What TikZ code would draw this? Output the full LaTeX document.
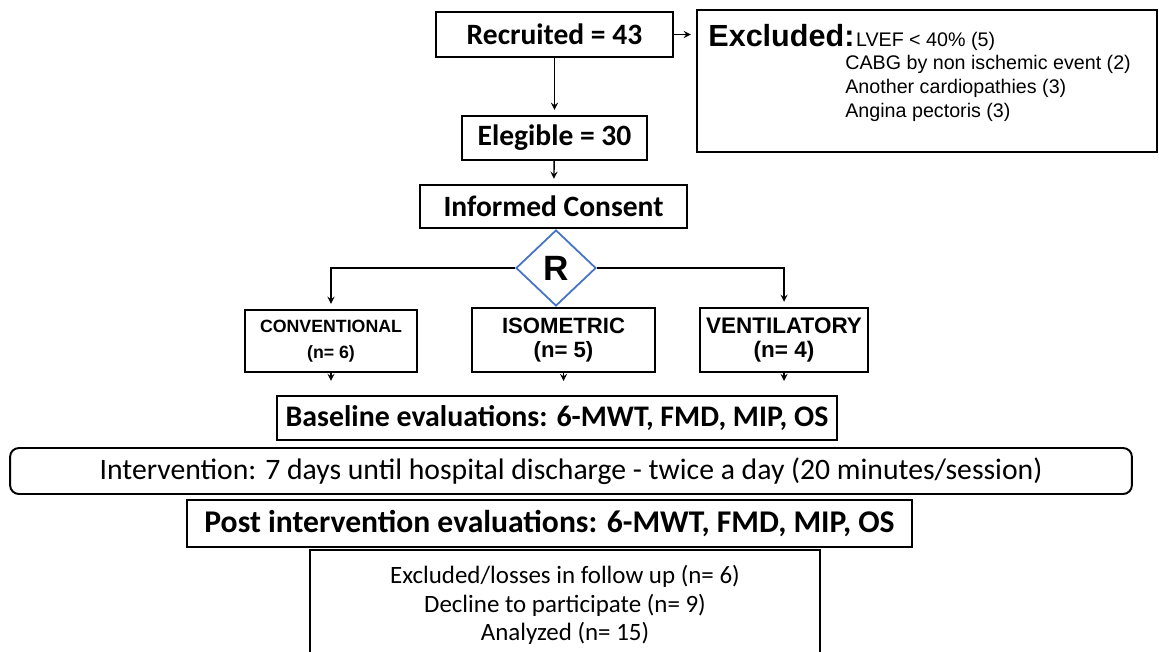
\documentclass[tikz,border=0pt]{standalone}
\usepackage{fontspec}
\setmainfont{Carlito}
\newfontfamily\arialfont{Liberation Sans}
\usetikzlibrary{shapes,positioning,calc}
\definecolor{rblue}{RGB}{68,114,196}

\begin{document}
\begin{tikzpicture}[x=0.02cm, y=-0.02cm, >=stealth,
    box/.style={draw, line width=1.1pt, inner sep=0pt, align=center},
    arr/.style={->, line width=0.8pt, shorten >=3pt},
    big/.style={font=\fontsize{16.8}{18}\selectfont\bfseries},
    grp/.style={font=\arialfont\fontsize{12.8}{14}\selectfont\bfseries}]
  \useasboundingbox (0,0) rectangle (1159,652);
  % enrolment
  \node (rec)[box, big, minimum width=4.74cm, minimum height=0.9cm] at (554.5,34.5) {Recruited = 43};
  \node (exc)[box, minimum width=9.2cm, minimum height=2.84cm] at (927,81) {};
  \node (exchead)[anchor=base west, inner sep=0pt, font=\arialfont\fontsize{17.4}{18}\selectfont\bfseries] at (708,47) {Excluded:};
  \node (exclist)[anchor=base west, inner sep=0pt, xshift=0.5pt, align=left, font=\arialfont\fontsize{11.2}{13.6}\selectfont] at (exchead.base east)
    {LVEF < 40\% (5)};
  \node (excrest)[anchor=north west, inner sep=0pt, align=left, font=\arialfont\fontsize{11.2}{13.6}\selectfont] at (845,55)
    {CABG by non ischemic event (2)\\Another cardiopathies (3)\\Angina pectoris (3)};
  \node (eleg)[box, big, minimum width=3.7cm, minimum height=0.88cm] at (554.5,138) {Elegible = 30};
  \node (cons)[box, big, minimum width=5.34cm, minimum height=0.86cm] at (553.5,206.5) {Informed Consent};
  % randomisation
  \node (R)[diamond, draw=rblue, line width=1pt, inner sep=0pt, minimum width=1.6cm, minimum height=1.52cm,
    font=\arialfont\fontsize{20}{22}\selectfont\bfseries] at (556,268) {R};
  \node (conv)[box, grp, font=\arialfont\fontsize{10.1}{14.5}\selectfont\bfseries, minimum width=3.44cm, minimum height=1.24cm] at (331,341) {CONVENTIONAL\\(n= 6)};
  \node (iso)[box, grp, font=\arialfont\fontsize{12.6}{14}\selectfont\bfseries, minimum width=3.66cm, minimum height=1.28cm] at (563.5,340) {ISOMETRIC\\(n= 5)};
  \node (vent)[box, grp, minimum width=3.36cm, minimum height=1.28cm] at (784,340) {VENTILATORY\\(n= 4)};
  % evaluations
  \node (base)[box, font=\fontsize{17}{19}\selectfont\bfseries, minimum width=11.2cm, minimum height=0.88cm] at (557,418)
    {Baseline evaluations: 6-MWT, FMD, MIP, OS};
  \node (interv)[box, rounded corners=5pt, font=\fontsize{16.9}{19}\selectfont, minimum width=22.44cm, minimum height=0.92cm] at (571,471)
    {Intervention: 7 days until hospital discharge - twice a day (20 minutes/session)};
  \node (post)[box, font=\fontsize{18}{20}\selectfont\bfseries, minimum width=14.5cm, minimum height=0.94cm] at (549.5,523.5)
    {Post intervention evaluations: 6-MWT, FMD, MIP, OS};
  \node (final)[box, font=\fontsize{14.2}{16.2}\selectfont, minimum width=10.2cm, minimum height=2.2cm] at (565,605)
    {Excluded/losses in follow up (n= 6)\\Decline to participate (n= 9)\\Analyzed (n= 15)};
  % connectors
  \draw[arr] (rec.east) -- (rec.east -| exc.west);
  \draw[arr] (rec) -- (eleg);
  \draw[arr] (eleg) -- (cons);
  \draw[arr] (R.west) -| (conv.north);
  \draw[arr] (R.east) -| (vent.north);
  \draw[arr, shorten >=8pt] (conv) -- (conv.south |- base.north);
  \draw[arr, shorten >=8pt] (iso) -- (iso.south |- base.north);
  \draw[arr, shorten >=8pt] (vent) -- (vent.south |- base.north);
\end{tikzpicture}
\end{document}
